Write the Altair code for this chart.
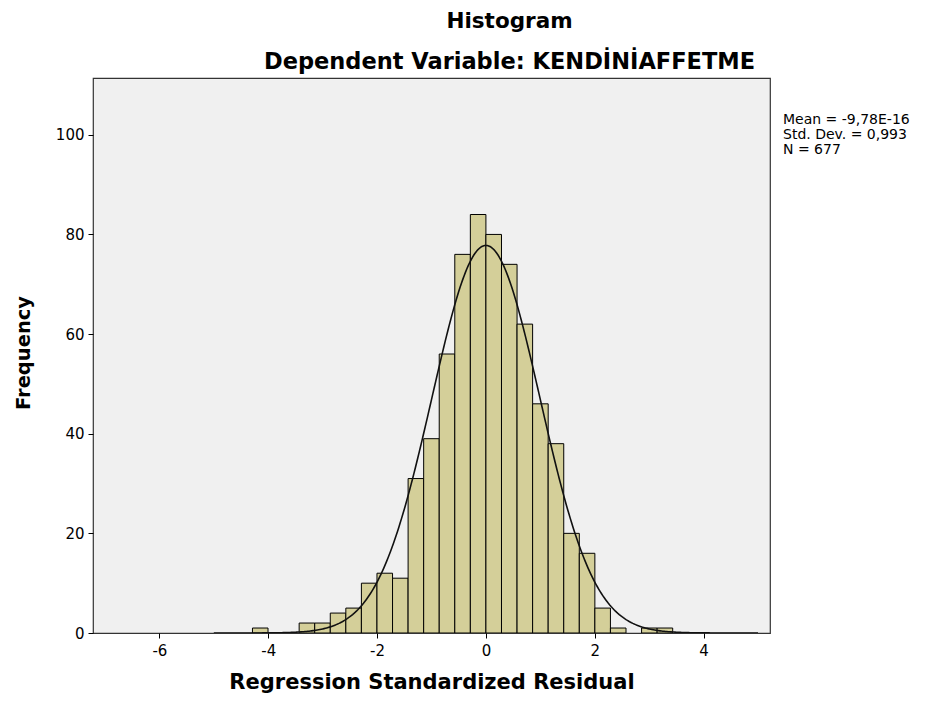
import altair as alt
import numpy as np
import pandas as pd

# Histogram bins (index k: bin = [k*w, (k+1)*w]) and frequencies
bin_index = [-15, -14, -13, -12, -11, -10, -9, -8, -7, -6, -5, -4, -3, -2, -1,
             0, 1, 2, 3, 4, 5, 6, 7, 8, 9, 10, 11]
counts = [1, 0, 0, 2, 2, 4, 5, 10, 12, 11, 31, 39, 56, 76, 84,
          80, 74, 62, 46, 38, 20, 16, 5, 1, 0, 1, 1]
bin_width = 0.286

# Summary statistics shown on the chart
stat_lines = ["Mean = -9,78E-16", "Std. Dev. = 0,993", "N = 677"]
mean_val = 0.0
sd_val = 0.993
n_val = 677

x_ticks = [-6, -4, -2, 0, 2, 4]
y_ticks = [0, 20, 40, 60, 80, 100]

bars = pd.DataFrame({
    "start": [k * bin_width for k in bin_index],
    "end": [(k + 1) * bin_width for k in bin_index],
    "count": counts,
})
bars = bars[bars["count"] > 0]
bars["base"] = 0

# normal curve fitted from the summary statistics
xs = np.linspace(-5.0, 5.0, 401)
ys = n_val * bin_width * np.exp(-0.5 * ((xs - mean_val) / sd_val) ** 2) / (sd_val * np.sqrt(2 * np.pi))
curve = pd.DataFrame({"x": xs, "y": ys})

W, H = 677, 555
FONT = "DejaVu Sans"

xscale = alt.Scale(domain=[-7.22, 5.22], nice=False, zero=False)
yscale = alt.Scale(domain=[0, 111.4], nice=False)

xaxis = alt.Axis(values=x_ticks, title="Regression Standardized Residual", grid=False,
                 domain=False, tickColor="black", tickSize=5, labelPadding=5,
                 labelExpr="'' + datum.value",
                 labelFont=FONT, labelFontSize=15, labelColor="black",
                 titleFont=FONT, titleFontSize=21, titleFontWeight="bold", titleColor="black",
                 titleX=W / 2, titleY=49, titleBaseline="middle")
yaxis = alt.Axis(values=y_ticks, title="Frequency", grid=False,
                 domain=False, tickColor="black", tickSize=5, labelPadding=4,
                 labelExpr="'' + datum.value",
                 labelFont=FONT, labelFontSize=15, labelColor="black",
                 titleFont=FONT, titleFontSize=19.5, titleFontWeight="bold", titleColor="black",
                 titleX=-70, titleY=H / 2 - 3, titleBaseline="middle")

bar_layer = alt.Chart(bars).mark_bar(
    color="#D4CF99", stroke="black", strokeWidth=1, clip=True
).encode(
    x=alt.X("start:Q", scale=xscale, axis=xaxis),
    x2="end:Q",
    y=alt.Y("count:Q", scale=yscale, axis=yaxis),
    y2="base:Q",
)

curve_layer = alt.Chart(curve).mark_line(color="#111111", strokeWidth=1.6, clip=True).encode(
    x=alt.X("x:Q", scale=xscale),
    y=alt.Y("y:Q", scale=yscale),
)

stat_y = [42, 57, 72]
stat_layers = []
for line, yy in zip(stat_lines, stat_y):
    stat_layers.append(
        alt.Chart(pd.DataFrame({"line": [line]})).mark_text(
            align="left", baseline="middle", font=FONT, fontSize=14, color="black"
        ).encode(x=alt.value(W + 13), y=alt.value(yy), text="line:N")
    )

chart = alt.layer(bar_layer, curve_layer, *stat_layers).properties(
    width=W,
    height=H,
    autosize=alt.AutoSizeParams(type="none"),
    padding={"left": 85, "top": 70, "right": 149, "bottom": 61},
    background="white",
    title=alt.TitleParams(
        text="Histogram",
        subtitle="Dependent Variable: KENDİNİAFFETME",
        anchor="middle",
        dx=78,
        offset=5,
        font=FONT, fontSize=21.5, fontWeight="bold", color="black",
        subtitleFont=FONT, subtitleFontSize=22.5, subtitleFontWeight="bold", subtitleColor="black",
        subtitlePadding=18,
    ),
).configure_view(
    fill="#F0F0F0", stroke="#333333", strokeWidth=1.2
)

chart.save("out.html", embed_options={"renderer": "svg", "actions": False})
